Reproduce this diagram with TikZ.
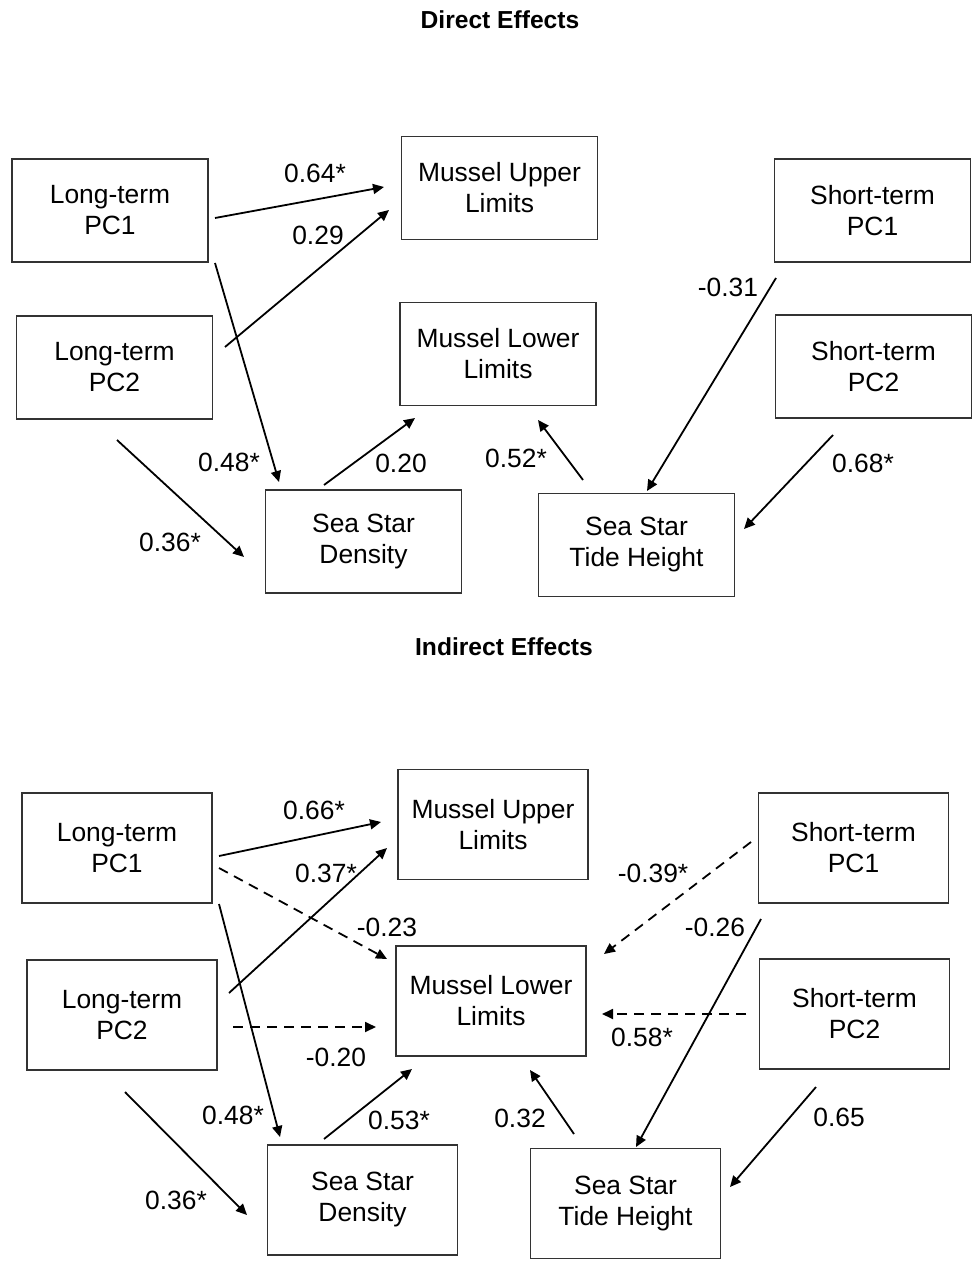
\documentclass[tikz,border=0pt]{standalone}
\usepackage{fontspec}
\setmainfont{Liberation Sans}
\usetikzlibrary{calc,arrows.meta}
\begin{document}
\begin{tikzpicture}[x=0.5pt,y=-0.5pt,
  boxA/.style={draw=black!80, line width=0.65pt, minimum width=98pt, minimum height=51.5pt, align=center, inner sep=0pt, font=\fontsize{13.2}{15.5}\selectfont},
  boxB/.style={boxA, minimum width=95pt, minimum height=55pt},
  arr/.style={line width=0.9pt, -{Triangle[length=5.5pt,width=5pt]}},
  darr/.style={arr, dash pattern=on 5pt off 3.5pt},
  lab/.style={font=\fontsize{13.2}{15.5}\selectfont, inner sep=0pt},
  ttl/.style={font=\fontsize{12.3}{14}\selectfont\bfseries, inner sep=0pt}]
\useasboundingbox[fill=white] (0,0) rectangle (976,1262);

% ---------- Direct effects ----------
\node[ttl] (t1) at (500,20) {Direct Effects};
\node[boxA] (lpc1) at (110,210.5) {Long-term\\PC1};
\node[boxA] (mul)  at (499.5,188) {Mussel Upper\\Limits};
\node[boxA] (spc1) at (872.5,210.5) {Short-term\\PC1};
\node[boxA] (lpc2) at (114.5,367.5) {Long-term\\PC2};
\node[boxA] (mll)  at (498,354) {Mussel Lower\\Limits};
\node[boxA] (spc2) at (873.5,366.5) {Short-term\\PC2};
\node[boxA] (ssd)  at (363.5,541.5) {Sea Star\\Density};
\node[boxA] (ssth) at (636.5,545) {Sea Star\\Tide Height};

\draw[arr] ($(lpc1)+(105,7.5)$) -- ($(mul)+(-115.5,-1)$);
\draw[arr] ($(lpc2)+(110.5,-20.5)$) -- ($(mul)+(-110.5,22)$);
\draw[arr] ($(lpc1)+(105,52.5)$) -- ($(ssd)+(-84.5,-59.5)$);
\draw[arr] ($(lpc2)+(2.5,72.5)$) -- ($(ssd)+(-119.5,15.5)$);
\draw[arr] ($(ssd)+(-39.5,-56.5)$) -- ($(mll)+(-83,64)$);
\draw[arr] ($(ssth)+(-53.5,-65)$) -- ($(mll)+(40,66)$);
\draw[arr] ($(spc1)+(-96.5,67.5)$) -- ($(ssth)+(10.5,-54)$);
\draw[arr] ($(spc2)+(-40.5,68.5)$) -- ($(ssth)+(107.5,-16)$);

\node[lab] (a1) at (315,173) {0.64*};
\node[lab] (a2) at (318,235) {0.29};
\node[lab] (a3) at (229,462) {0.48*};
\node[lab] (a4) at (170,542) {0.36*};
\node[lab] (a5) at (401,463) {0.20};
\node[lab] (a6) at (516,458) {0.52*};
\node[lab] (a7) at (728,287) {-0.31};
\node[lab] (a8) at (863,463) {0.68*};

% ---------- Indirect effects ----------
\node[ttl] (t2) at (504,647) {Indirect Effects};
\node[boxB] (blpc1) at (117,848) {Long-term\\PC1};
\node[boxB] (bmul)  at (493,824.5) {Mussel Upper\\Limits};
\node[boxB] (bspc1) at (853.5,848) {Short-term\\PC1};
\node[boxB] (blpc2) at (122,1015) {Long-term\\PC2};
\node[boxB] (bmll)  at (491,1001) {Mussel Lower\\Limits};
\node[boxB] (bspc2) at (854.5,1014) {Short-term\\PC2};
\node[boxB] (bssd)  at (362.5,1200) {Sea Star\\Density};
\node[boxB] (bssth) at (625.5,1203.5) {Sea Star\\Tide Height};

\draw[arr]  ($(blpc1)+(102,8)$) -- ($(bmul)+(-112,-2.5)$);
\draw[arr]  ($(blpc2)+(107,-22)$) -- ($(bmul)+(-106,23.5)$);
\draw[darr] ($(blpc1)+(102,20)$) -- ($(bmll)+(-104,-42)$);
\draw[darr] ($(blpc2)+(111,12)$) -- ($(bmll)+(-115,26)$);
\draw[arr]  ($(blpc1)+(102,56)$) -- ($(bssd)+(-82.5,-63)$);
\draw[arr]  ($(blpc2)+(3,77)$) -- ($(bssd)+(-115.5,15)$);
\draw[arr]  ($(bssd)+(-38.5,-61)$) -- ($(bmll)+(-79,68)$);
\draw[arr]  ($(bssth)+(-51.5,-69.5)$) -- ($(bmll)+(39,69)$);
\draw[darr] ($(bspc1)+(-102.5,-6)$) -- ($(bmll)+(113,-47)$);
\draw[darr] ($(bspc2)+(-108.5,0)$) -- ($(bmll)+(111,13)$);
\draw[arr]  ($(bspc1)+(-92.5,71)$) -- ($(bssth)+(10.5,-56.5)$);
\draw[arr]  ($(bspc2)+(-38.5,73)$) -- ($(bssth)+(104.5,-16.5)$);

\node[lab] (b1) at (314,810) {0.66*};
\node[lab] (b2) at (326,873) {0.37*};
\node[lab] (b3) at (387,927) {-0.23};
\node[lab] (b4) at (336,1057) {-0.20};
\node[lab] (b5) at (233,1115) {0.48*};
\node[lab] (b6) at (176,1200) {0.36*};
\node[lab] (b7) at (399,1120) {0.53*};
\node[lab] (b8) at (520,1118) {0.32};
\node[lab] (b9) at (653,873) {-0.39*};
\node[lab] (b10) at (642,1037) {0.58*};
\node[lab] (b11) at (715,927) {-0.26};
\node[lab] (b12) at (839,1117) {0.65};
\end{tikzpicture}
\end{document}
